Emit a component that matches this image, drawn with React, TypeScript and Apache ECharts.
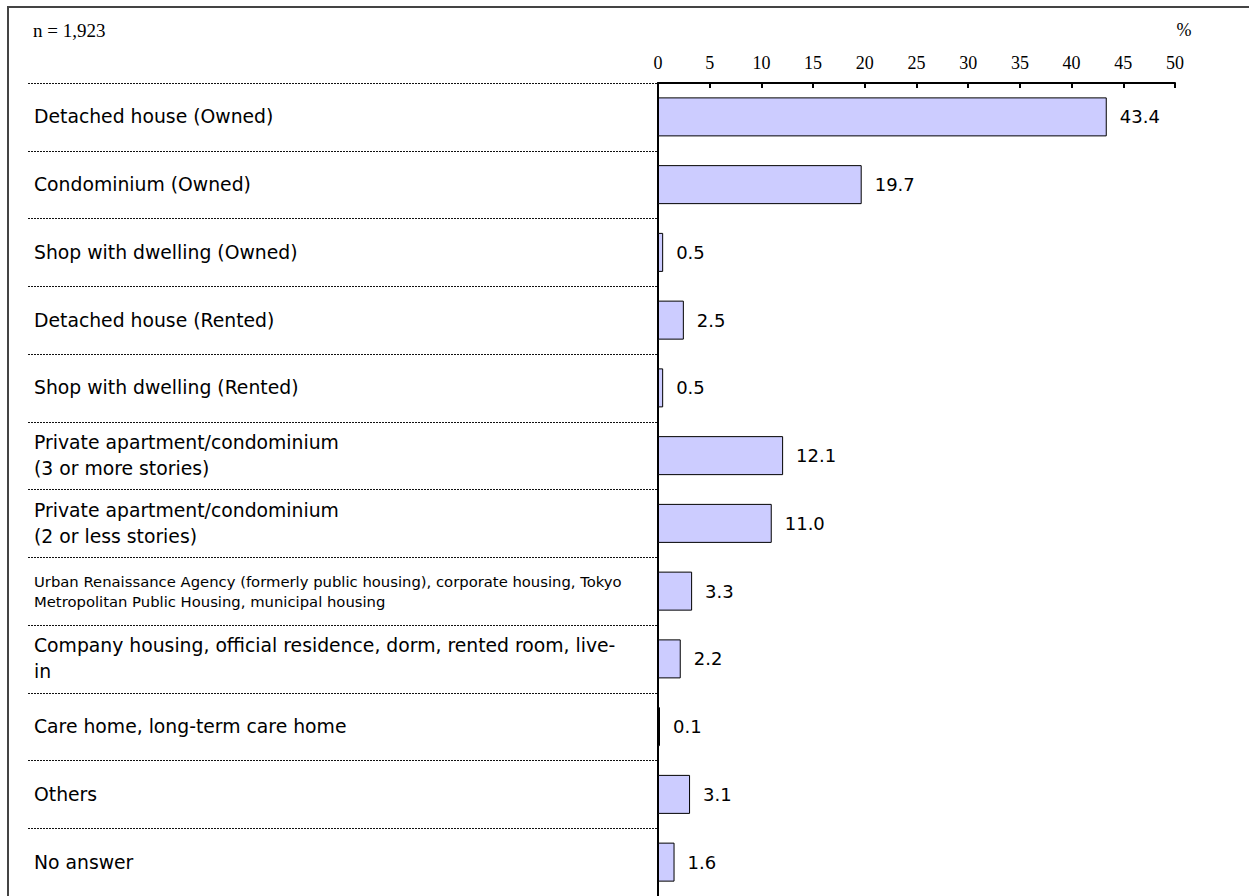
import React, { useEffect, useRef } from "react";
import * as echarts from "echarts";

const categories: string[] = [
  "Detached house (Owned)",
  "Condominium (Owned)",
  "Shop with dwelling (Owned)",
  "Detached house (Rented)",
  "Shop with dwelling (Rented)",
  "Private apartment/condominium\n(3 or more stories)",
  "Private apartment/condominium\n(2 or less stories)",
  "Urban Renaissance Agency (formerly public housing), corporate housing, Tokyo\nMetropolitan Public Housing, municipal housing",
  "Company housing, official residence, dorm, rented room, live-\nin",
  "Care home, long-term care home",
  "Others",
  "No answer",
];
const values: number[] = [43.4, 19.7, 0.5, 2.5, 0.5, 12.1, 11.0, 3.3, 2.2, 0.1, 3.1, 1.6];
const smallLabelIndex = 7;
const sampleNote = "n = 1,923";
const unitLabel = "%";

const SANS = "'DejaVu Sans', sans-serif";
const SERIF = "'Liberation Serif', serif";

export default function App() {
  const ref = useRef<HTMLDivElement>(null);
  useEffect(() => {
    if (!ref.current) return;
    const chart = echarts.init(ref.current, undefined, { renderer: "svg" });
    const labelData = categories.map((c, i) =>
      i === smallLabelIndex
        ? { value: c, textStyle: { fontSize: 14.8, lineHeight: 20 } }
        : { value: c }
    );
    chart.setOption({
      animation: false,
      backgroundColor: "#ffffff",
      grid: [
        { left: 658, top: 83, width: 517, height: 818, containLabel: false },
        { left: 28, top: 83, width: 630, height: 818, containLabel: false },
      ],
      xAxis: [
        {
          type: "value",
          gridIndex: 0,
          position: "top",
          min: 0,
          max: 50,
          interval: 5,
          axisLine: { show: true, lineStyle: { color: "#000", width: 2 } },
          axisTick: { show: true, inside: true, length: 5, lineStyle: { color: "#000", width: 2 } },
          axisLabel: { margin: 11, color: "#000", fontFamily: SERIF, fontSize: 18 },
          splitLine: { show: false },
        },
        { type: "value", gridIndex: 1, show: false, min: 0, max: 1 },
      ],
      yAxis: [
        {
          type: "category",
          gridIndex: 0,
          inverse: true,
          data: categories,
          axisLine: { show: true, lineStyle: { color: "#000", width: 2 } },
          axisTick: { show: false },
          axisLabel: { show: false },
          splitLine: { show: false },
        },
        {
          type: "category",
          gridIndex: 1,
          inverse: true,
          data: labelData,
          axisLine: { show: false },
          axisTick: { show: false },
          axisLabel: {
            show: true,
            inside: true,
            interval: 0,
            margin: 6,
            color: "#000",
            fontFamily: SANS,
            fontSize: 18.8,
            lineHeight: 26,
            align: "left",
          },
          splitLine: {
            show: true,
            interval: 0,
            lineStyle: { color: "#111", width: 1, type: [2, 1] },
          },
        },
      ],
      series: [
        {
          type: "bar",
          xAxisIndex: 0,
          yAxisIndex: 0,
          data: values,
          barWidth: 39,
          barMinHeight: 2,
          itemStyle: { color: "#ccccff", borderColor: "#000", borderWidth: 1 },
          label: {
            show: true,
            position: "right",
            distance: 13,
            color: "#000",
            fontFamily: SANS,
            fontSize: 18,
            formatter: (p: any) => Number(p.value).toFixed(1),
          },
        },
      ],
      graphic: [
        {
          type: "rect",
          shape: { x: 8, y: 7, width: 1400, height: 1000 },
          style: { fill: "none", stroke: "#444", lineWidth: 2 },
          silent: true,
        },
        {
          type: "text",
          x: 33,
          y: 30,
          style: { text: sampleNote, fontFamily: SERIF, fontSize: 19, fill: "#000", verticalAlign: "middle" },
        },
        {
          type: "text",
          x: 1184,
          y: 30,
          style: { text: unitLabel, fontFamily: SERIF, fontSize: 18, fill: "#000", align: "center", verticalAlign: "middle" },
        },
      ],
    });
    return () => chart.dispose();
  }, []);
  return (
    <div
      ref={ref}
      style={{ position: "absolute", left: 0, top: 0, width: 1249, height: 896 }}
    />
  );
}
